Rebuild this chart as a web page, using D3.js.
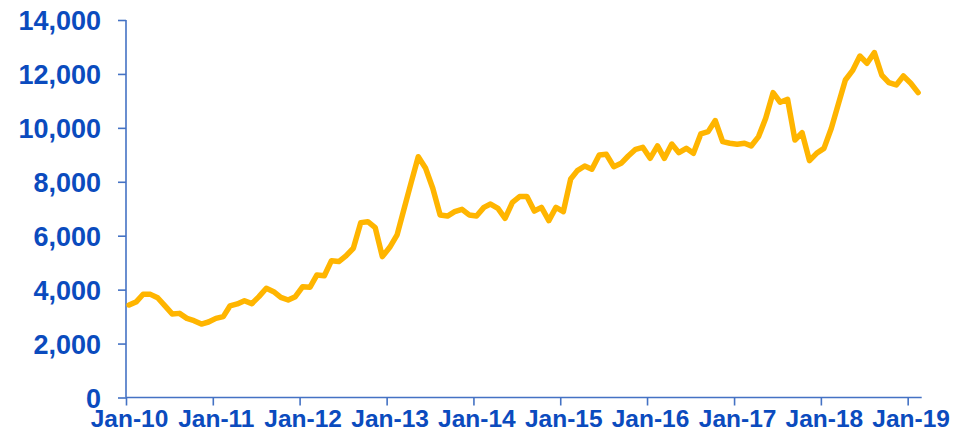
<!DOCTYPE html>
<html>
<head>
<meta charset="utf-8">
<script src="https://cdn.jsdelivr.net/npm/d3@7"></script>
<style>
  html, body { margin: 0; padding: 0; background: #ffffff; }
  svg { display: block; }
</style>
</head>
<body>
<svg id="chart" width="955" height="431"></svg>
<script>
// Monthly series, Jan-2010 .. Feb-2019
const startYear = 2010;
const values = [
  3430, 3555, 3830, 3825, 3700, 3395, 3100, 3120, 2935, 2850, 2725, 2800,   // 2010
  2935, 3000, 3395, 3470, 3590, 3480, 3740, 4050, 3925, 3715, 3615, 3740,   // 2011
  4110, 4090, 4545, 4515, 5075, 5040, 5250, 5535, 6485, 6520, 6300, 5225,   // 2012
  5570, 6030, 6955, 7970, 8930, 8500, 7760, 6770, 6730, 6890, 6980, 6770,   // 2013
  6730, 7050, 7175, 7015, 6645, 7240, 7450, 7450, 6915, 7050, 6560, 7050,   // 2014
  6890, 8105, 8415, 8585, 8465, 8995, 9020, 8560, 8685, 8955, 9205, 9280,   // 2015
  8870, 9330, 8870, 9400, 9080, 9240, 9055, 9775, 9860, 10270, 9490, 9430,  // 2016
  9390, 9430, 9330, 9675, 10355, 11305, 10950, 11060, 9550, 9820, 8785, 9055, // 2017
  9240, 9985, 10840, 11775, 12120, 12665, 12395, 12790, 11960, 11675, 11590, 11925, // 2018
  11655, 11305                                                             // 2019
];
const yTicks = [0, 2000, 4000, 6000, 8000, 10000, 12000, 14000];
const xTickYears = [2010, 2011, 2012, 2013, 2014, 2015, 2016, 2017, 2018, 2019];

const data = values.map((v, i) => ({ date: new Date(startYear, i, 14), value: v }));

const svg = d3.select("#chart");
const mLeft = 126, mRight = 921.7, mTop = 20, mBottom = 397.5;

const x = d3.scaleTime()
  .domain([new Date(2010, 0, 1), new Date(2019, 2, 1)])
  .range([mLeft, mRight]);
const y = d3.scaleLinear().domain([0, 14000]).range([mBottom, mTop]);

const axisColor = "#4472C4";
const labelColor = "#0B4BBE";

// Y axis
const yAxis = svg.append("g")
  .attr("transform", `translate(${mLeft},0)`)
  .call(d3.axisLeft(y).tickValues(yTicks).tickSize(8).tickPadding(17)
    .tickFormat(d3.format(",")));
yAxis.select(".domain").attr("stroke", axisColor).attr("stroke-width", 1.6)
  .attr("d", `M0,${mTop}V${mBottom}`);
yAxis.selectAll(".tick line").attr("stroke", axisColor).attr("stroke-width", 1.6);
yAxis.selectAll(".tick text")
  .attr("fill", labelColor)
  .style("font-family", "'Liberation Sans', Arial, sans-serif")
  .style("font-weight", "bold")
  .style("font-size", "27px")
  .attr("dy", "0.36em");

// X axis
const xAxis = svg.append("g")
  .attr("transform", `translate(0,${mBottom})`)
  .call(d3.axisBottom(x)
    .tickValues(xTickYears.map(yr => new Date(yr, 0, 1)))
    .tickSize(8).tickPadding(4)
    .tickFormat(d3.timeFormat("%b-%y")));
xAxis.select(".domain").attr("stroke", axisColor).attr("stroke-width", 1.6)
  .attr("d", `M${mLeft},0H${mRight}`);
xAxis.selectAll(".tick line").attr("stroke", axisColor).attr("stroke-width", 1.6);
xAxis.selectAll(".tick text")
  .attr("fill", labelColor)
  .attr("x", 3)
  .attr("dy", "17px")
  .style("font-family", "'Liberation Sans', Arial, sans-serif")
  .style("font-weight", "bold")
  .style("font-size", "24.5px");

// Line
const line = d3.line()
  .x(d => x(d.date))
  .y(d => y(d.value));

svg.append("path")
  .datum(data)
  .attr("fill", "none")
  .attr("stroke", "#FFB500")
  .attr("stroke-width", 5.5)
  .attr("stroke-linejoin", "round")
  .attr("stroke-linecap", "round")
  .attr("d", line);
</script>
</body>
</html>
